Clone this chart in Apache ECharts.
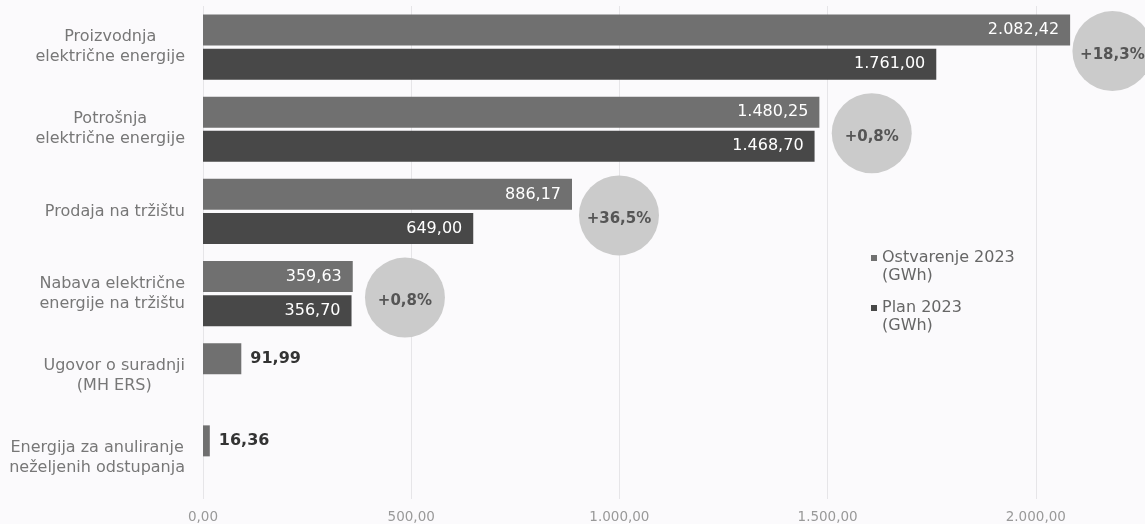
<!DOCTYPE html>
<html>
<head>
<meta charset="utf-8">
<script src="https://cdn.jsdelivr.net/npm/echarts@6/dist/echarts.min.js"></script>
<style>
html,body{margin:0;padding:0;background:#fbfafc;}
#chart{width:1145px;height:524px;}
</style>
</head>
<body>
<div id="chart"></div>
<script>
const categories = [
  'Proizvodnja\nelektrične energije',
  'Potrošnja\nelektrične energije',
  'Prodaja na tržištu',
  'Nabava električne\nenergije na tržištu',
  'Ugovor o suradnji\n(MH ERS)',
  'Energija za anuliranje\nneželjenih odstupanja'
];
const ostvarenje = [2082.42, 1480.25, 886.17, 359.63, 91.99, 16.36];
const plan = [1761.00, 1468.70, 649.00, 356.70, null, null];
const circleX = [2184, 1606, 999, 485];
const xTicks = [0, 500, 1000, 1500, 2000, 2500];

function fmtHr(n, d) {
  const s = n.toFixed(d);
  const parts = s.split('.');
  const intp = parts[0].replace(/\B(?=(\d{3})+(?!\d))/g, '.');
  return parts.length > 1 ? intp + ',' + parts[1] : intp;
}

const FONT = 'DejaVu Sans';
const insideLabel = {
  show: true, position: 'insideRight', distance: 11,
  color: '#ffffff', fontSize: 16, fontFamily: FONT,
  formatter: p => fmtHr(p.value, 2)
};
const outsideLabel = {
  show: true, position: 'right', distance: 9,
  color: '#333333', fontSize: 16, fontWeight: 'bold', fontFamily: FONT,
  formatter: p => fmtHr(p.value, 2)
};

const ostData = ostvarenje.map(v => ({ value: v, label: v < 200 ? outsideLabel : insideLabel }));
const planData = plan.map(v => v == null ? null : ({ value: v, label: insideLabel }));

const circleData = circleX.map((x, i) => ({
  value: [x, categories[i]],
  pct: (ostvarenje[i] / plan[i] - 1) * 100
}));

const chart = echarts.init(document.getElementById('chart'), null, { renderer: 'canvas' });
chart.setOption({
  backgroundColor: '#fbfafc',
  animation: false,
  textStyle: { fontFamily: FONT },
  grid: { left: 203, width: 1041, top: 6, bottom: 25, containLabel: false, outerBoundsMode: 'none' },
  legend: {
    orient: 'vertical',
    left: 866, top: 244,
    itemWidth: 6, itemHeight: 24, itemGap: 14,
    icon: 'path://M0,0h6v6h-6z M0,23.9h0.01v0.01h-0.01z',
    textStyle: { fontSize: 16, color: '#666', lineHeight: 18, fontFamily: FONT },
    data: ['Ostvarenje 2023\n(GWh)', 'Plan 2023\n(GWh)']
  },
  xAxis: {
    type: 'value', min: xTicks[0], max: xTicks[xTicks.length - 1], interval: 500,
    axisLine: { show: false }, axisTick: { show: false },
    splitLine: { show: true, lineStyle: { color: '#e6e5e8', width: 1 } },
    axisLabel: { color: '#999', fontSize: 13.5, margin: 11, fontFamily: FONT, showMaxLabel: false,
      formatter: v => fmtHr(v, 2) }
  },
  yAxis: {
    type: 'category', inverse: true, data: categories,
    axisLine: { show: false }, axisTick: { show: false },
    axisLabel: {
      margin: 18, align: 'right',
      formatter: v => v.split('\n').map(l => '{c|' + l + '}').join('\n'),
      rich: { c: { align: 'center', fontSize: 16, color: '#777', lineHeight: 20, fontFamily: FONT } }
    }
  },
  series: [
    {
      name: 'Ostvarenje 2023\n(GWh)', type: 'bar', data: ostData,
      barWidth: 31, barGap: '10%',
      itemStyle: { color: '#707070' }
    },
    {
      name: 'Plan 2023\n(GWh)', type: 'bar', data: planData,
      barWidth: 31, barGap: '10%',
      itemStyle: { color: '#484848' }
    },
    {
      type: 'scatter', data: circleData, symbol: 'circle', symbolSize: 80,
      symbolOffset: [0, 4], z: 5, silent: true,
      itemStyle: { color: '#cbcbcb', opacity: 1 },
      label: {
        show: true, position: 'inside', offset: [0, 4], color: '#555', fontSize: 15, fontWeight: 'bold', fontFamily: FONT,
        formatter: p => '+' + fmtHr(p.data.pct, 1) + '%'
      }
    }
  ]
});
</script>
</body>
</html>
